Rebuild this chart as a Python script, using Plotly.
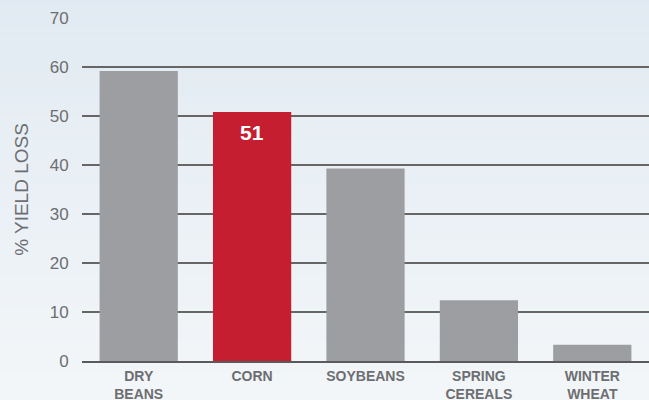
import plotly.graph_objects as go

categories = ["DRY<br>BEANS", "CORN", "SOYBEANS", "SPRING<br>CEREALS", "WINTER<br>WHEAT"]
values = [59.2, 50.8, 39.3, 12.4, 3.3]
highlight = "CORN"
highlight_label = "51"
y_ticks = [0, 10, 20, 30, 40, 50, 60, 70]

GREY = "#9d9ea1"
RED = "#c41e30"
TEXT = "#6d6e71"

colors = [RED if c == highlight else GREY for c in categories]

fig = go.Figure()
fig.add_trace(go.Bar(
    x=categories, y=values, marker=dict(color=colors, line=dict(width=0)),
    width=0.69, hoverinfo="skip",
))

fig.add_annotation(
    x=highlight, y=values[categories.index(highlight)], text=f"<b>{highlight_label}</b>",
    showarrow=False, yanchor="top", yshift=-7,
    font=dict(family="Liberation Sans, Arial", size=21, color="white"),
)

# vertical background gradient (decoration)
top = (225, 234, 242)
bot = (244, 247, 249)
n = 40
for i in range(n):
    t = i / (n - 1)
    c = tuple(int(round(top[k] + (bot[k] - top[k]) * t)) for k in range(3))
    fig.add_shape(type="rect", xref="paper", yref="paper",
                  x0=-0.2, x1=1.2, y0=1.1 - (i + 1) * 1.3 / n, y1=1.1 - i * 1.3 / n,
                  fillcolor=f"rgb{c}", line=dict(width=0), layer="below")

fig.update_layout(
    width=649, height=400,
    margin=dict(l=82, r=0, t=18, b=39, autoexpand=False),
    paper_bgcolor="rgb(236,241,245)", plot_bgcolor="rgba(0,0,0,0)",
    showlegend=False, bargap=0.31,
    font=dict(family="Liberation Sans, Arial", color=TEXT),
)
fig.update_xaxes(
    showgrid=False, showline=True, linecolor="#5a5a5a", linewidth=1.5,
    tickfont=dict(size=14, color=TEXT, family="Liberation Sans, Arial"),
    ticks="outside", ticklen=1, tickcolor="rgba(0,0,0,0)",
    automargin=False, fixedrange=True,
    tickprefix="<b>", ticksuffix="</b>",
)
fig.update_yaxes(
    range=[0, 70], tickvals=y_ticks, showgrid=True, gridcolor="#666666", gridwidth=1.5,
    zeroline=False, showline=False,
    tickfont=dict(size=17, color=TEXT),
    ticks="outside", ticklen=9, tickcolor="rgba(0,0,0,0)",
    title=dict(text="% YIELD LOSS", font=dict(size=19, color=TEXT), standoff=16),
    automargin=False, fixedrange=True,
)

fig.write_html(
    "out.html",
    config={"displayModeBar": False},
    post_script="document.body.style.margin='0';document.body.style.overflow='hidden';",
)
